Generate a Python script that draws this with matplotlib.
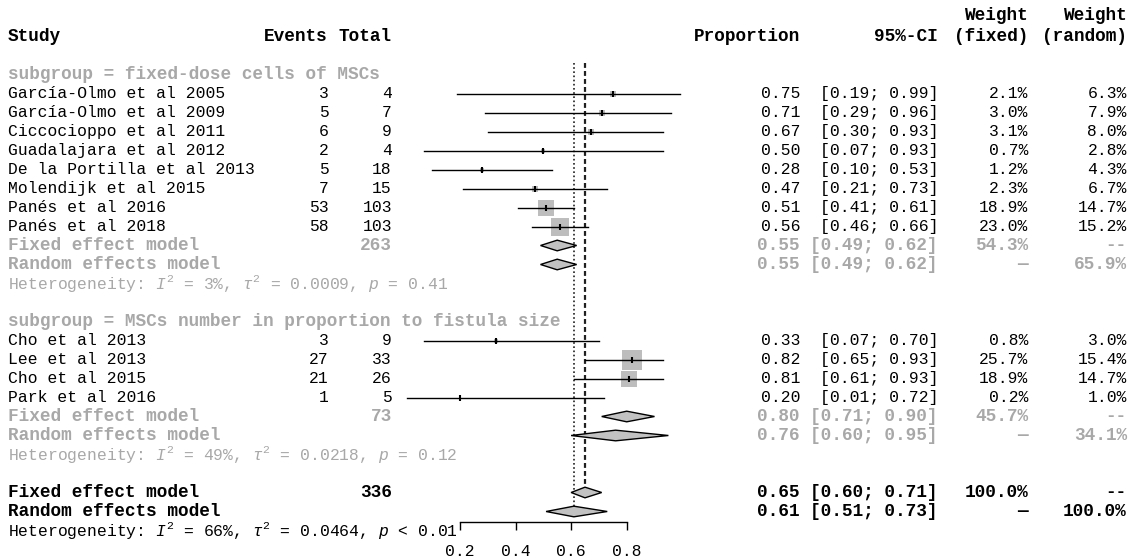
import matplotlib.pyplot as plt
from matplotlib import transforms

# study level data
studies = ['García-Olmo et al 2005', 'García-Olmo et al 2009', 'Ciccocioppo et al 2011',
           'Guadalajara et al 2012', 'De la Portilla et al 2013', 'Molendijk et al 2015',
           'Panés et al 2016', 'Panés et al 2018',
           'Cho et al 2013', 'Lee et al 2013', 'Cho et al 2015', 'Park et al 2016']
events = [3, 5, 6, 2, 5, 7, 53, 58, 3, 27, 21, 1]
totals = [4, 7, 9, 4, 18, 15, 103, 103, 9, 33, 26, 5]
prop = [0.75, 0.71, 0.67, 0.50, 0.28, 0.47, 0.51, 0.56, 0.33, 0.82, 0.81, 0.20]
ci_lo = [0.19, 0.29, 0.30, 0.07, 0.10, 0.21, 0.41, 0.46, 0.07, 0.65, 0.61, 0.01]
ci_hi = [0.99, 0.96, 0.93, 0.93, 0.53, 0.73, 0.61, 0.66, 0.70, 0.93, 0.93, 0.72]
w_fixed = [2.1, 3.0, 3.1, 0.7, 1.2, 2.3, 18.9, 23.0, 0.8, 25.7, 18.9, 0.2]
w_random = [6.3, 7.9, 8.0, 2.8, 4.3, 6.7, 14.7, 15.2, 3.0, 15.4, 14.7, 1.0]

# subgroups
sub_labels = ['fixed-dose cells of MSCs', 'MSCs number in proportion to fistula size']
sub_sizes = [8, 4]
sub_total = [263, 73]
sub_fixed = [(0.55, 0.49, 0.62), (0.80, 0.71, 0.90)]
sub_random = [(0.55, 0.49, 0.62), (0.76, 0.60, 0.95)]
sub_wfixed = [54.3, 45.7]
sub_wrandom = [65.9, 34.1]
sub_het = [('3%', '0.0009', '= 0.41'), ('49%', '0.0218', '= 0.12')]

# overall
all_total = 336
all_fixed = (0.65, 0.60, 0.71)
all_random = (0.61, 0.51, 0.73)
all_het = ('66%', '0.0464', '< 0.01')
ticks = [0.2, 0.4, 0.6, 0.8]

plt.rcParams['font.family'] = ['Liberation Mono', 'DejaVu Sans Mono']
plt.rcParams['mathtext.fontset'] = 'custom'
plt.rcParams['mathtext.rm'] = 'Liberation Mono'
plt.rcParams['mathtext.it'] = 'Liberation Mono:italic'

W, H = 1131, 560
FS, FSB = 11.8, 12.8
GRAY = '#a8a8a8'
BOX = '#bdbdbd'

fig = plt.figure(figsize=(W / 100, H / 100), dpi=100)
ax = fig.add_axes([0, 0, 1, 1])
# pixel mapping: x = 404.3 + 278 * p, y = 36.5 + 19 * row
ax.set_xlim(-404.3 / 278, (W - 404.3) / 278)
ax.set_ylim((H - 36.5) / 19, -36.5 / 19)
tr = transforms.blended_transform_factory(ax.transAxes, ax.transData)


def txt(px, row, s, ha='right', color='black', bold=False):
    ax.text(px / W, row, s, transform=tr, ha=ha, va='center', color=color,
            fontsize=FSB if bold else FS, fontweight='bold' if bold else 'normal')


def diamond(row, est, lo, hi, h=0.28):
    ax.fill([lo, est, hi, est], [row, row - h, row, row + h],
            facecolor='#c2c2c2', edgecolor='black', lw=1.0, zorder=3)


def summary_rows(row, total, fixed, random, wf, wr, color):
    txt(8, row, 'Fixed effect model', ha='left', color=color, bold=True)
    txt(392, row, str(total), color=color, bold=True)
    txt(800, row, f'{fixed[0]:.2f}', color=color, bold=True)
    txt(938, row, f'[{fixed[1]:.2f}; {fixed[2]:.2f}]', color=color, bold=True)
    txt(1028, row, f'{wf:.1f}%', color=color, bold=True)
    txt(1127, row, '--', color=color, bold=True)
    diamond(row, *fixed)
    txt(8, row + 1, 'Random effects model', ha='left', color=color, bold=True)
    txt(800, row + 1, f'{random[0]:.2f}', color=color, bold=True)
    txt(938, row + 1, f'[{random[1]:.2f}; {random[2]:.2f}]', color=color, bold=True)
    txt(1028, row + 1, '—', color=color, bold=True)
    txt(1127, row + 1, f'{wr:.1f}%', color=color, bold=True)
    diamond(row + 1, *random)


def het_row(row, het, color):
    i2, tau, p = het
    txt(8, row, rf'Heterogeneity: $I^2$ = {i2}, $\tau^2$ = {tau}, $p$ {p}',
        ha='left', color=color)


# header
txt(8, 0, 'Study', ha='left', bold=True)
txt(328, 0, 'Events', bold=True)
txt(392, 0, 'Total', bold=True)
txt(800, 0, 'Proportion', bold=True)
txt(938, 0, '95%-CI', bold=True)
txt(1028, -1.13, 'Weight', bold=True)
txt(1028, 0, '(fixed)', bold=True)
txt(1127, -1.13, 'Weight', bold=True)
txt(1127, 0, '(random)', bold=True)

row = 2
k = 0
for g in range(2):
    txt(8, row, f'subgroup = {sub_labels[g]}', ha='left', color=GRAY, bold=True)
    row += 1
    for j in range(sub_sizes[g]):
        txt(8, row, studies[k], ha='left')
        txt(329, row, str(events[k]))
        txt(392, row, str(totals[k]))
        txt(800, row, f'{prop[k]:.2f}')
        txt(938, row, f'[{ci_lo[k]:.2f}; {ci_hi[k]:.2f}]')
        txt(1028, row, f'{w_fixed[k]:.1f}%')
        txt(1127, row, f'{w_random[k]:.1f}%')
        ax.plot([ci_lo[k], ci_hi[k]], [row, row], color='black', lw=1.0, zorder=2)
        ax.scatter([prop[k]], [row], marker='s', s=7.3 * w_fixed[k], color=BOX,
                   linewidths=0, zorder=1)
        ax.plot([prop[k]], [row], marker='|', ms=4, mew=1.5, color='black', zorder=4)
        row += 1
        k += 1
    summary_rows(row, sub_total[g], sub_fixed[g], sub_random[g],
                 sub_wfixed[g], sub_wrandom[g], GRAY)
    het_row(row + 2, sub_het[g], GRAY)
    row += 4

summary_rows(row, all_total, all_fixed, all_random, 100.0, 100.0, 'black')
het_row(row + 2, all_het, 'black')

# reference lines for overall estimates
ax.plot([all_fixed[0]] * 2, [1.4, row - 0.28], color='#202020', lw=1.6,
        ls=(0, (2.2, 1.4)), zorder=0)
ax.plot([all_random[0]] * 2, [1.4, row + 1 - 0.28], color='#202020', lw=1.2,
        ls=(0, (1, 1.5)), zorder=0)

# x axis
for s in ['top', 'left', 'right']:
    ax.spines[s].set_visible(False)
ax.spines['bottom'].set_position(('data', row + 1.55))
ax.spines['bottom'].set_bounds(ticks[0], ticks[-1])
ax.spines['bottom'].set_linewidth(1.0)
ax.set_xticks(ticks)
ax.set_xticklabels([f'{t:.1f}' for t in ticks])
ax.tick_params(axis='x', direction='out', length=6, width=1.0, pad=10, labelsize=FS)
ax.tick_params(axis='y', left=False, labelleft=False)
ax.patch.set_visible(False)

plt.savefig('out.png', dpi=100)
